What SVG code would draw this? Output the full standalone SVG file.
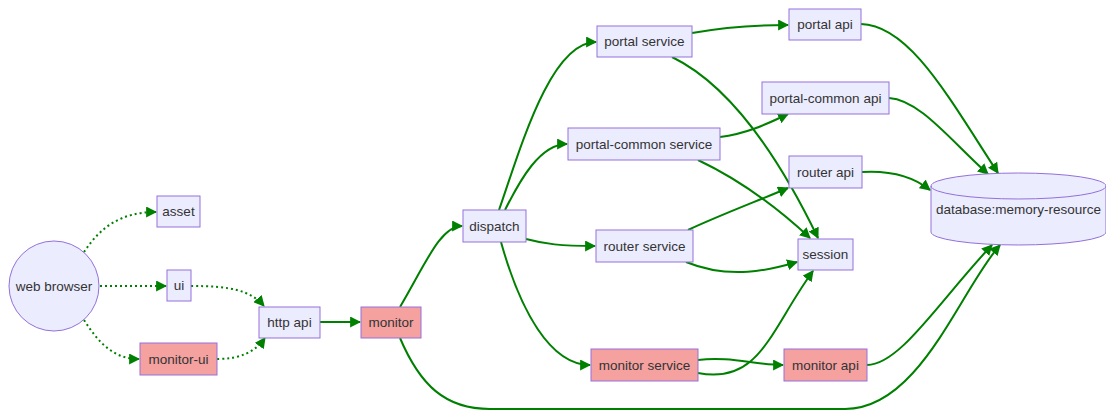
<svg xmlns="http://www.w3.org/2000/svg" width="1106" height="412" viewBox="0 0 1106 412">
<style>
.n{fill:#ECECFF;stroke:#9370DB;stroke-width:1}
.r{fill:#F4A1A0;stroke:#9370DB;stroke-width:1}
.t{font-family:"Liberation Sans",Arial,sans-serif;font-size:13.5px;fill:#333;text-anchor:middle;dominant-baseline:central}
.e{fill:none;stroke:#008000;stroke-width:2}
.d{stroke-dasharray:2 3}
</style>
<defs>
<marker id="a" viewBox="0 0 10 10" refX="9" refY="5" markerUnits="userSpaceOnUse" markerWidth="11" markerHeight="11" orient="auto">
<path d="M0,0 L10,5 L0,10 z" fill="#008000"/>
</marker>
</defs>
<rect width="1106" height="412" fill="#fff"/>
<g id="edges">
<path class="e d" marker-end="url(#a)" d="M84,252 C100,228 120,212 156,212"/>
<path class="e d" marker-end="url(#a)" d="M100,286 L166,286"/>
<path class="e d" marker-end="url(#a)" d="M84,320 C100,345 115,359 139,359"/>
<path class="e d" marker-end="url(#a)" d="M191,286 C230,286 250,290 264,306"/>
<path class="e d" marker-end="url(#a)" d="M217,359 C240,359 255,352 265,338"/>
<path class="e" marker-end="url(#a)" d="M320,322 L360,322"/>
<path class="e" marker-end="url(#a)" d="M400,307 C425,265 440,226 462,226"/>
<path class="e" marker-end="url(#a)" d="M400,338 C420,385 445,409 490,409 L845,409 C920,409 960,290 1000,245"/>
<path class="e" marker-end="url(#a)" d="M499,210 C520,150 550,42 596,42"/>
<path class="e" marker-end="url(#a)" d="M505,210 C520,180 540,144 567,144"/>
<path class="e" marker-end="url(#a)" d="M526,239 C545,244 560,246 595,246"/>
<path class="e" marker-end="url(#a)" d="M501,242 C520,310 550,365 590,365"/>
<path class="e" marker-end="url(#a)" d="M692,33 C720,28 750,25 788,25"/>
<path class="e" marker-end="url(#a)" d="M672,57 C740,90 790,180 818,238"/>
<path class="e" marker-end="url(#a)" d="M720,137 C745,134 765,125 788,114"/>
<path class="e" marker-end="url(#a)" d="M698,160 C740,180 780,210 810,238"/>
<path class="e" marker-end="url(#a)" d="M688,230 C720,215 760,200 788,188"/>
<path class="e" marker-end="url(#a)" d="M686,262 C730,280 770,270 797,262"/>
<path class="e" marker-end="url(#a)" d="M698,373 C760,385 770,330 813,271"/>
<path class="e" marker-end="url(#a)" d="M698,360 C730,356 755,365 783,365"/>
<path class="e" marker-end="url(#a)" d="M861,24 C910,25 950,100 998,173"/>
<path class="e" marker-end="url(#a)" d="M889,98 C920,100 950,140 988,174"/>
<path class="e" marker-end="url(#a)" d="M862,172 C895,170 915,178 930,190"/>
<path class="e" marker-end="url(#a)" d="M867,365 C900,365 940,300 992,245"/>
</g>
<g id="web-browser"><circle class="n" cx="54" cy="286" r="45"/><text class="t" x="54" y="286">web browser</text></g>
<g id="asset"><rect class="n" x="157" y="196" width="43" height="31"/><text class="t" x="178.5" y="211.5">asset</text></g>
<g id="ui"><rect class="n" x="167" y="270" width="24" height="31"/><text class="t" x="179" y="285.5">ui</text></g>
<g id="monitor-ui"><rect class="r" x="140" y="343" width="77" height="32"/><text class="t" x="178.5" y="359">monitor-ui</text></g>
<g id="http-api"><rect class="n" x="259" y="307" width="61" height="31"/><text class="t" x="289.5" y="322.5">http api</text></g>
<g id="monitor"><rect class="r" x="361" y="307" width="60" height="31"/><text class="t" x="391" y="322.5">monitor</text></g>
<g id="dispatch"><rect class="n" x="463" y="210" width="63" height="32"/><text class="t" x="494.5" y="226">dispatch</text></g>
<g id="portal-service"><rect class="n" x="597" y="26" width="95" height="31"/><text class="t" x="644.5" y="41.5">portal service</text></g>
<g id="portal-common-service"><rect class="n" x="568" y="128" width="152" height="32"/><text class="t" x="644" y="144">portal-common service</text></g>
<g id="router-service"><rect class="n" x="596" y="230" width="97" height="32"/><text class="t" x="644.5" y="246">router service</text></g>
<g id="monitor-service"><rect class="r" x="591" y="349" width="107" height="32"/><text class="t" x="644.5" y="365">monitor service</text></g>
<g id="portal-api"><rect class="n" x="789" y="9" width="72" height="31"/><text class="t" x="825" y="24.5">portal api</text></g>
<g id="portal-common-api"><rect class="n" x="762" y="82" width="127" height="32"/><text class="t" x="825.5" y="98">portal-common api</text></g>
<g id="router-api"><rect class="n" x="789" y="156" width="73" height="32"/><text class="t" x="825.5" y="172">router api</text></g>
<g id="session"><rect class="n" x="798" y="239" width="55" height="31"/><text class="t" x="825.5" y="254.5">session</text></g>
<g id="monitor-api"><rect class="r" x="784" y="349" width="83" height="32"/><text class="t" x="825.5" y="365">monitor api</text></g>
<g id="database">
<path class="n" d="M931,186 A87.5,13 0 0 1 1106,186 L1106,232 A87.5,13 0 0 1 931,232 Z"/>
<path class="n" style="fill:none" d="M931,186 A87.5,13 0 0 0 1106,186"/>
<text class="t" x="1018.5" y="209">database:memory-resource</text>
</g>
</svg>
